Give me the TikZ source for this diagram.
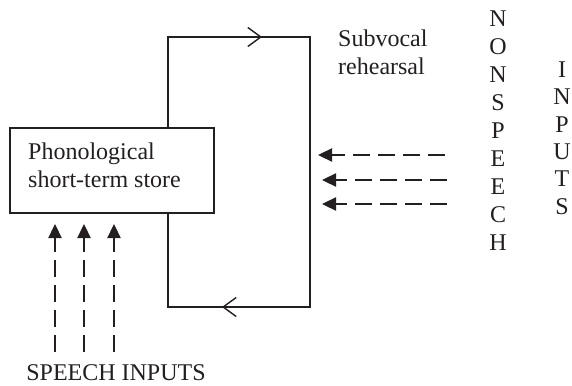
\documentclass[tikz,border=0pt]{standalone}
\usepackage{fontspec}
\setmainfont{Liberation Serif}
\usetikzlibrary{arrows.meta}
\definecolor{ink}{HTML}{231F20}
\begin{document}
\begin{tikzpicture}[x=1pt,y=-1pt]
\tikzset{
  txt/.style={inner sep=0pt, text=ink, font=\fontsize{24}{28}\selectfont},
  loopline/.style={draw=ink, line width=1.4pt},
  barb/.style={-{Straight Barb[length=13pt,width=19pt]}},
  inflow/.style={draw=ink, line width=2.3pt, dash pattern=on 17pt off 8pt,
    -{Triangle[length=14pt,width=13pt]}}
}
\useasboundingbox (0,0) rectangle (572,385);

% the store
\node[draw=ink, line width=1.3pt, minimum width=204pt, minimum height=85pt] (store) at (112,170.5) {};
\node[txt, align=left, anchor=base west] (storelabel) at (28,187) {Phonological\\short-term store};

% rehearsal loop
\coordinate (tl) at (168,37);
\coordinate (tr) at (310,37);
\coordinate (br) at (310,307);
\coordinate (bl) at (168,307);
\coordinate (tmark) at (262,37);
\coordinate (bmark) at (222,307);
\draw[loopline] (store.north -| tl) -- (tl) -- (tr) -- (br) -- (bl) -- (store.south -| bl);
\draw[loopline,barb] (tl) -- (tmark);
\draw[loopline,barb] (bl -| br) -- (bmark);

\node[txt, align=left, anchor=west] (rehearse) at (338,52) {Subvocal\\rehearsal};

% nonspeech inputs
\node[txt, align=center] (nonspeech) at (498,131) {N\\O\\N\\S\\P\\E\\E\\C\\H};
\node[txt, align=center, font=\fontsize{24}{27.4}\selectfont] (inputs) at (562,138) {I\\N\\P\\U\\T\\S};

\coordinate (ns1) at (445,155); \coordinate (nt1) at (318,155);
\coordinate (ns2) at (447,180); \coordinate (nt2) at (322,180);
\coordinate (ns3) at (447,204); \coordinate (nt3) at (322,204);
\draw[inflow] (ns1) -- (nt1);
\draw[inflow] (ns2) -- (nt2);
\draw[inflow] (ns3) -- (nt3);

% speech inputs
\coordinate (ss1) at (55,352); \coordinate (st1) at (55,224);
\coordinate (ss2) at (84,352); \coordinate (st2) at (84,224);
\coordinate (ss3) at (114,352); \coordinate (st3) at (114,224);
\draw[inflow] (ss1) -- (st1);
\draw[inflow] (ss2) -- (st2);
\draw[inflow] (ss3) -- (st3);

\node[txt] (speech) at (116,373) {SPEECH INPUTS};
\end{tikzpicture}
\end{document}
